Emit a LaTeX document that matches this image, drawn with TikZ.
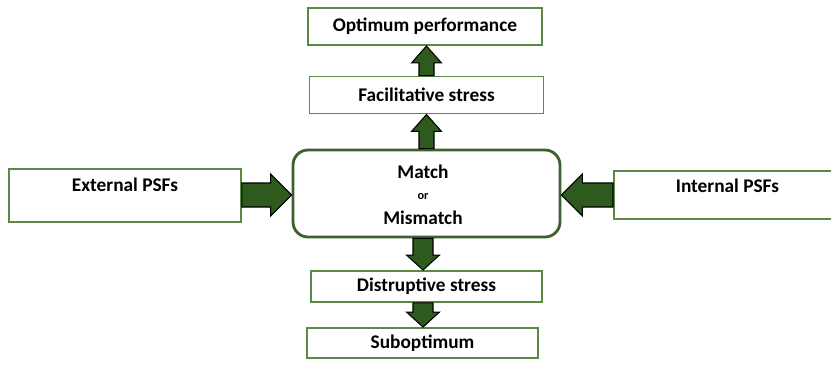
\documentclass[tikz,border=0pt]{standalone}
\usepackage{fontspec}
\setmainfont{Carlito}
\usetikzlibrary{calc, positioning}

\definecolor{boxgreen}{HTML}{5B8A46}
\definecolor{darkgreen}{HTML}{3D6030}
\definecolor{arrowgreen}{HTML}{2E5A1E}

\tikzset{
    box/.style={draw=boxgreen, line width=1.1pt, fill=white, font=\bfseries\fontsize{11}{13}\selectfont},
    fatarrow/.style={draw=black, line width=0.6pt, fill=arrowgreen, line join=miter}
}

% block arrow: from, to, shaft half width, head half width, head length
\newcommand{\blockarrow}[5]{%
    \coordinate (ba-s) at (#1);
    \coordinate (ba-e) at (#2);
    \coordinate (ba-h) at ($(ba-e)!#5!(ba-s)$);
    \draw [fatarrow] ($(ba-s)!#3!90:(ba-e)$) -- ($(ba-h)!#3!90:(ba-e)$) -- ($(ba-h)!#4!90:(ba-e)$)
        -- (ba-e) -- ($(ba-h)!#4!-90:(ba-e)$) -- ($(ba-h)!#3!-90:(ba-e)$) -- ($(ba-s)!#3!-90:(ba-e)$) -- cycle;
}

\begin{document}
\begin{tikzpicture}[x=0.02cm, y=-0.02cm]
    \useasboundingbox (0,0) rectangle (831,369);
    \clip (0,0) rectangle (831,369);

    % Centre
    \node [draw=darkgreen, line width=1.6pt, rounded corners=0.3cm, minimum width=5.34cm, minimum height=1.74cm] (match) at (426.5,193.5) {};
    \node [font=\bfseries\fontsize{11}{13}\selectfont] (matchtxt) at (423,172) {Match};
    \node [font=\bfseries\fontsize{7}{8}\selectfont] (ortxt) at (423,196) {or};
    \node [font=\bfseries\fontsize{11}{13}\selectfont] (mismatchtxt) at (423,218) {Mismatch};

    % Upper branch
    \node [box, minimum width=4.68cm, minimum height=0.74cm] (facil) at (426.5,95) {Facilitative stress};
    \node [box, minimum width=4.68cm, minimum height=0.74cm] (optimum) at (425,26.5) {Optimum performance};

    % Lower branch
    \node [box, minimum width=4.62cm, minimum height=0.62cm] (disrupt) at (426.5,286.5) {Distruptive stress};
    \node [box, minimum width=4.62cm, minimum height=0.60cm] (subopt) at (422.5,343) {Suboptimum};

    % Side inputs
    \node [box, minimum width=4.64cm, minimum height=1.06cm, text depth=0.42cm] (external) at (125,195.5) {External PSFs};
    \node [box, minimum width=4.8cm, minimum height=0.96cm, text depth=0.36cm, anchor=west] (internal) at (613,195) {\hspace*{-0.26cm}Internal PSFs};

    % Arrows
    \blockarrow{match.north -| facil.south}{facil.south}{0.15cm}{0.3cm}{0.34cm}
    \blockarrow{facil.north}{optimum.south -| facil.north}{0.15cm}{0.3cm}{0.34cm}
    \blockarrow{match.south -| 423,0}{disrupt.north -| 423,0}{0.2cm}{0.33cm}{0.3cm}
    \blockarrow{disrupt.south -| 423,0}{subopt.north -| 423,0}{0.2cm}{0.33cm}{0.3cm}
    \blockarrow{external.east |- 0,195}{match.west |- 0,195}{0.24cm}{0.42cm}{0.42cm}
    \blockarrow{internal.west |- 0,195}{match.east |- 0,195}{0.24cm}{0.42cm}{0.42cm}
\end{tikzpicture}
\end{document}
